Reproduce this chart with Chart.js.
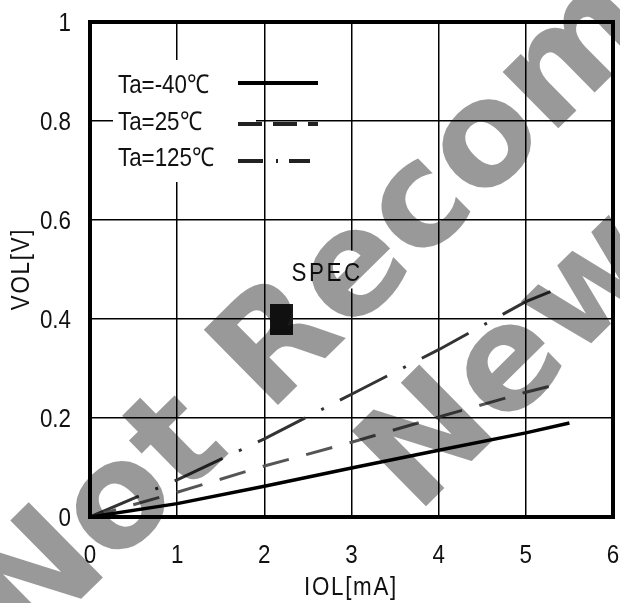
<!DOCTYPE html>
<html>
<head>
<meta charset="utf-8">
<script src="https://cdn.jsdelivr.net/npm/chart.js@4.4.1/dist/chart.umd.min.js"></script>
<style>
html, body { margin: 0; padding: 0; background: #fff; }
</style>
</head>
<body>
<canvas id="chart" width="620" height="603"></canvas>
<script>
// values
var seriesLabels = ['Ta=-40℃', 'Ta=25℃', 'Ta=125℃'];
var iolM40 = [0, 1, 2, 3, 4, 5, 5.5];
var volM40 = [0, 0.027, 0.062, 0.099, 0.135, 0.17, 0.19];
var iol25 = [0, 1, 2, 3, 4, 5, 5.34];
var vol25 = [0, 0.05, 0.103, 0.151, 0.202, 0.252, 0.267];
var iol125 = [0, 1, 2, 3, 4, 5, 5.32];
var vol125 = [0, 0.075, 0.158, 0.248, 0.338, 0.435, 0.458];
var specIol = [2.2];
var specVol = [0.4];
var specLabel = 'SPEC';
var xTitle = 'IOL[mA]';
var yTitle = 'VOL[V]';
var watermark = ['Not Recommended for', 'New Designs'];

var FONT = '"Liberation Sans", Arial, sans-serif';
var FS = 26;        // text size
var NARROW = 0.86;  // the sheet uses a narrow gothic face

function pts(xs, ys) {
    return xs.map(function (x, i) { return { x: x, y: ys[i] }; });
}

// text squeezed horizontally, (x, y) = anchor at the vertical middle of the digits/caps
function narrowText(ctx, text, x, y, align, spacing) {
    ctx.save();
    ctx.font = FS + 'px ' + FONT;
    ctx.fillStyle = '#111';
    ctx.textAlign = align;
    ctx.textBaseline = 'alphabetic';
    ctx.letterSpacing = (spacing || 0) + 'px';
    ctx.translate(x, y + 0.36 * FS);
    ctx.scale(NARROW, 1);
    ctx.fillText(text, 0, 0);
    ctx.restore();
}

// black block used as the SPEC marker
var specImg = document.createElement('canvas');
specImg.width = 23;
specImg.height = 31;
var sctx = specImg.getContext('2d');
sctx.fillStyle = '#1a1a1a';
sctx.fillRect(0, 0, 23, 31);

var paperPlugin = {
    id: 'paper',
    beforeDraw: function (chart) {
        var ctx = chart.ctx;
        ctx.save();
        ctx.fillStyle = '#fff';
        ctx.fillRect(0, 0, chart.width, chart.height);
        ctx.restore();
    },
    afterDatasetsDraw: function (chart) {
        var ctx = chart.ctx;
        var a = chart.chartArea;
        var xs = chart.scales.x, ys = chart.scales.y;
        ctx.save();

        // legend (white box over the grid)
        ctx.fillStyle = '#fff';
        ctx.fillRect(113, 60, 143, 122);
        narrowText(ctx, seriesLabels[0], 118, 84, 'left');
        narrowText(ctx, seriesLabels[1], 118, 121, 'left');
        narrowText(ctx, seriesLabels[2], 118, 157, 'left');

        ctx.lineCap = 'butt';
        ctx.strokeStyle = '#000';
        ctx.lineWidth = 4;
        ctx.beginPath(); ctx.moveTo(238, 83); ctx.lineTo(318, 83); ctx.stroke();
        ctx.strokeStyle = '#222';
        ctx.setLineDash([24, 11]);
        ctx.beginPath(); ctx.moveTo(238, 124); ctx.lineTo(318, 124); ctx.stroke();
        ctx.setLineDash([25, 13, 2, 11]);
        ctx.beginPath(); ctx.moveTo(238, 161); ctx.lineTo(310, 161); ctx.stroke();
        ctx.setLineDash([]);

        // SPEC label
        var sx = xs.getPixelForValue(2.72), sy = ys.getPixelForValue(0.496);
        ctx.fillStyle = '#fff';
        ctx.fillRect(sx - 32, sy - 21, 64, 38);
        narrowText(ctx, specLabel, sx, sy, 'center', 3);

        // frame
        ctx.strokeStyle = '#000';
        ctx.lineWidth = 4;
        ctx.strokeRect(a.left, a.top, a.right - a.left, a.bottom - a.top);

        // tick labels from the scales
        xs.ticks.forEach(function (t) {
            narrowText(ctx, String(+t.value.toFixed(1)), xs.getPixelForValue(t.value), 554, 'center');
        });
        ys.ticks.forEach(function (t) {
            narrowText(ctx, String(+t.value.toFixed(1)), 71, ys.getPixelForValue(t.value), 'right');
        });

        // axis titles
        narrowText(ctx, xTitle, 351, 586, 'center', 2);
        ctx.translate(20, 269);
        ctx.rotate(-Math.PI / 2);
        narrowText(ctx, yTitle, 0, 0, 'center', 2);
        ctx.restore();
    },
    afterDraw: function (chart) {
        // grey "Not Recommended" stamp, multiplied over the drawing
        var ctx = chart.ctx;
        ctx.save();
        ctx.globalCompositeOperation = 'multiply';
        ctx.fillStyle = '#999';
        ctx.font = 'bold 100px "DejaVu Sans", sans-serif';
        var F = 100 * 515 / ctx.measureText('ot Rec').width;
        ctx.font = 'bold ' + F + 'px "DejaVu Sans", sans-serif';
        var wN = ctx.measureText('N').width;
        var wo = ctx.measureText('o').width;
        var we = ctx.measureText('e').width;
        var xh = 0.547 * F;
        ctx.translate(120, 505);
        ctx.rotate(Math.atan2(-362, 367));
        ctx.textAlign = 'left';
        ctx.textBaseline = 'alphabetic';
        ctx.fillText(watermark[0], -(wN + wo / 2), xh / 2);
        ctx.fillText(watermark[1], 374 - (wN + we / 2), 176 + xh / 2);
        ctx.restore();
    }
};

var ctx = document.getElementById('chart').getContext('2d');
var chart = new Chart(ctx, {
    type: 'scatter',
    data: {
        datasets: [{
            label: seriesLabels[0],
            data: pts(iolM40, volM40),
            showLine: true,
            borderColor: '#000',
            borderWidth: 3.5,
            pointRadius: 0,
            tension: 0
        }, {
            label: seriesLabels[1],
            data: pts(iol25, vol25),
            showLine: true,
            borderColor: '#555',
            borderWidth: 3,
            borderDash: [27, 18],
            pointRadius: 0,
            tension: 0
        }, {
            label: seriesLabels[2],
            data: pts(iol125, vol125),
            showLine: true,
            borderColor: '#333',
            borderWidth: 3,
            borderDash: [53, 18, 3, 18],
            pointRadius: 0,
            tension: 0
        }, {
            label: specLabel,
            data: pts(specIol, specVol),
            showLine: false,
            pointStyle: specImg,
            pointRadius: 16
        }]
    },
    options: {
        responsive: false,
        animation: false,
        layout: { autoPadding: false, padding: { top: 22, right: 7, left: 0, bottom: 0 } },
        plugins: {
            legend: { display: false },
            tooltip: { enabled: false }
        },
        scales: {
            x: {
                type: 'linear',
                min: 0,
                max: 6,
                afterFit: function (s) { s.height = 86; },
                ticks: { stepSize: 1, display: false },
                grid: { color: '#000', lineWidth: 1.5, drawTicks: false },
                border: { display: false }
            },
            y: {
                min: 0,
                max: 1,
                afterFit: function (s) { s.width = 90; },
                ticks: { stepSize: 0.2, display: false },
                grid: { color: '#000', lineWidth: 1.5, drawTicks: false },
                border: { display: false }
            }
        }
    },
    plugins: [paperPlugin]
});
</script>
</body>
</html>
